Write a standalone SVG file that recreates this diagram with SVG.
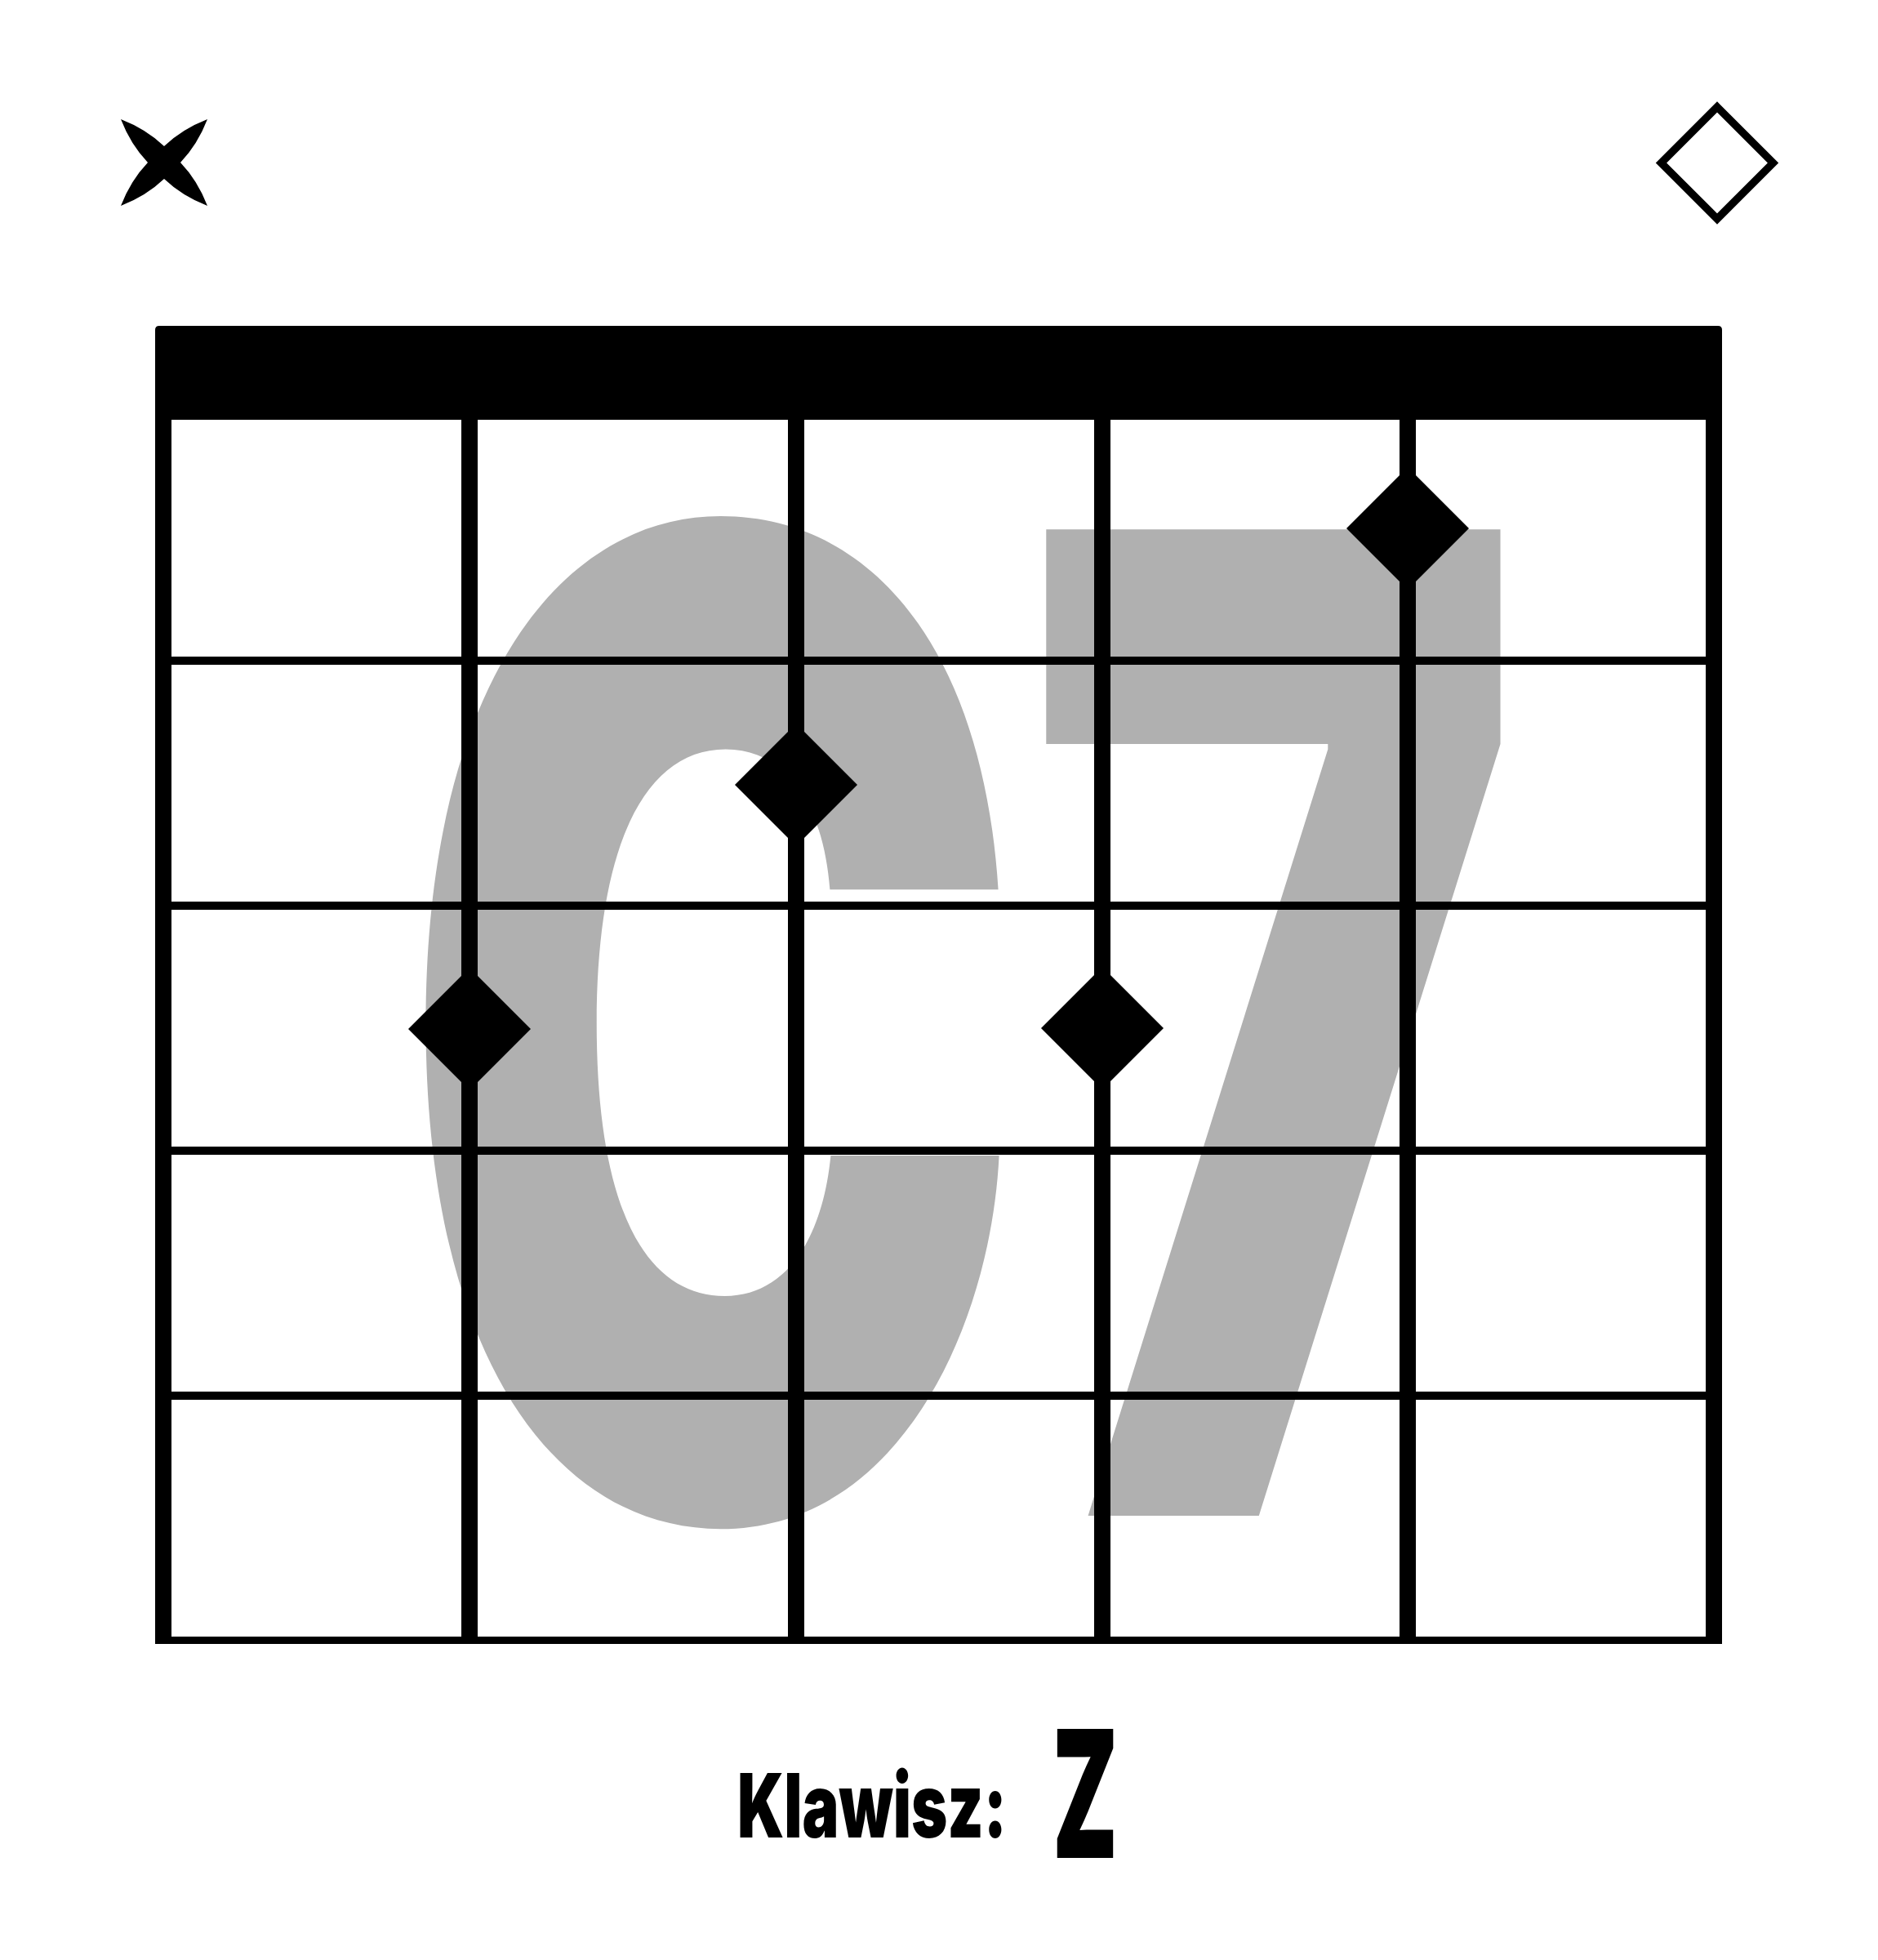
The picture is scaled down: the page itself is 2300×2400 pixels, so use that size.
<svg xmlns="http://www.w3.org/2000/svg" width="2300" height="2400" viewBox="0 0 2300 2400">
<style>
  .line { fill: #000; }
  .dot { fill: #000; }
  .bg-name { fill: #b0b0b0; font-family: "Inter", "Liberation Sans", Arial, sans-serif; font-weight: 900; font-size: 1000px; }
  .label { fill: #000; font-family: "Inter", "Liberation Sans", Arial, sans-serif; font-weight: 900; }
</style>
<rect x="0" y="0" width="2300" height="2400" fill="#fff"/>

<g id="chord-name">
  <text class="bg-name" transform="translate(486.3,1856) scale(1.03,1.66)"><tspan x="0" y="0">C</tspan><tspan x="744.5" y="0">7</tspan></text>
</g>

<g id="muted-string">
  <path transform="translate(201,199)" d="M-53,-53 Q-22,-41 0,-20 Q22,-41 53,-53 Q41,-22 20,0 Q41,22 53,53 Q22,41 0,20 Q-22,41 -53,53 Q-41,22 -20,0 Q-41,-22 -53,-53 Z" fill="#000"/>
</g>

<g id="open-string">
  <path d="M2103,131 L2171.5,199.5 L2103,268 L2034.5,199.5 Z" fill="none" stroke="#000" stroke-width="9.5" stroke-miterlimit="10"/>
</g>

<g id="fretboard">
  <path d="M195,399 H2104 Q2109,399 2109,404 V514 H190 V404 Q190,399 195,399 Z" class="line"/>
  <rect class="line" x="190" y="514" width="20" height="1499"/>
  <rect class="line" x="565" y="514" width="20" height="1499"/>
  <rect class="line" x="965" y="514" width="20" height="1499"/>
  <rect class="line" x="1340" y="514" width="20" height="1499"/>
  <rect class="line" x="1714" y="514" width="20" height="1499"/>
  <rect class="line" x="2089" y="514" width="20" height="1499"/>
  <rect class="line" x="190" y="804" width="1919" height="10"/>
  <rect class="line" x="190" y="1104" width="1919" height="10"/>
  <rect class="line" x="190" y="1404" width="1919" height="10"/>
  <rect class="line" x="190" y="1704" width="1919" height="10"/>
  <rect class="line" x="190" y="2004" width="1919" height="9"/>
</g>

<g id="finger-1"><path class="dot" d="M1724,572 L1799,647 L1724,722 L1649,647 Z"/></g>
<g id="finger-2"><path class="dot" d="M975,886 L1050,961 L975,1036 L900,961 Z"/></g>
<g id="finger-3"><path class="dot" d="M575,1185 L650,1260 L575,1335 L500,1260 Z"/></g>
<g id="finger-4"><path class="dot" d="M1350,1184 L1425,1259 L1350,1334 L1275,1259 Z"/></g>

<g id="key-label">
  <text class="label" x="903" y="2250" font-size="109" textLength="330" lengthAdjust="spacingAndGlyphs">Klawisz:</text>
  <text class="label" x="1289" y="2275" font-size="217" textLength="80" lengthAdjust="spacingAndGlyphs">Z</text>
</g>
</svg>
